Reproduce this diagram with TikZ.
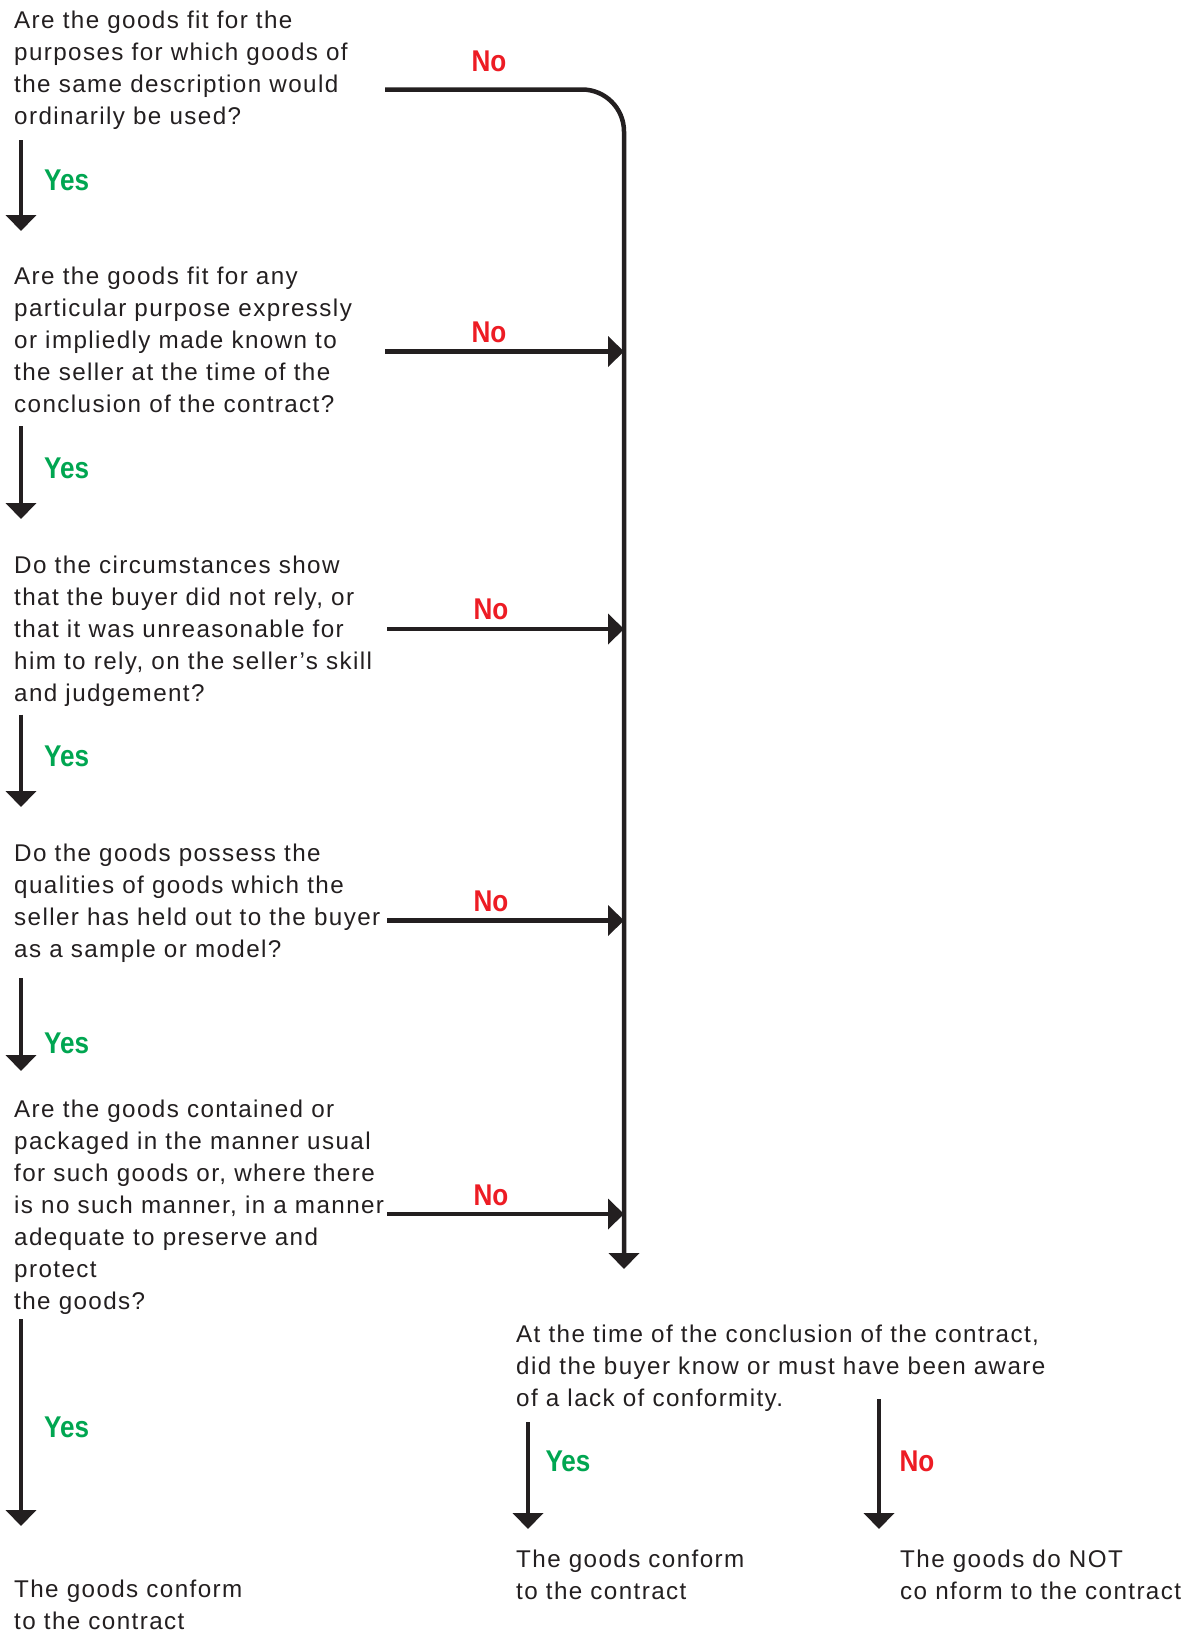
\documentclass[tikz,border=0pt]{standalone}
\usepackage{fontspec}
\setmainfont{Liberation Sans}[LetterSpace=5.8]
\newfontfamily\lblfont{Liberation Sans}[FakeStretch=0.87]
\usetikzlibrary{arrows.meta}
\definecolor{noRed}{HTML}{ED1C24}
\definecolor{yesGreen}{HTML}{00A651}
\definecolor{ink}{HTML}{231F20}
\begin{document}
\begin{tikzpicture}[x=1pt,y=-1pt,
  qtext/.style={anchor=north west, inner sep=0pt, align=left, font=\fontsize{24.2}{32}\selectfont, text=ink},
  yeslbl/.style={anchor=center, inner sep=0pt, font=\lblfont\bfseries\fontsize{30}{32}\selectfont, text=yesGreen},
  nolbl/.style={anchor=center, inner sep=0pt, font=\lblfont\bfseries\fontsize{30}{32}\selectfont, text=noRed},
  flow/.style={line width=4.5pt, draw=ink, -{Triangle[width=30pt,length=16pt]}},
]
\useasboundingbox[fill=white] (0,0) rectangle (1194,1631);

% questions
\node[qtext] (q1) at (14,5.6) {\strut Are the goods fit for the\\purposes for which goods of\\the same description would\\ordinarily be used?};
\node[qtext] (q2) at (14,261.6) {\strut Are the goods fit for any\\particular purpose expressly\\or impliedly made known to\\the seller at the time of the\\conclusion of the contract?};
\node[qtext] (q3) at (14,550.6) {\strut Do the circumstances show\\that the buyer did not rely, or\\that it was unreasonable for\\him to rely, on the seller's skill\\and judgement?};
\node[qtext] (q4) at (14,838.6) {\strut Do the goods possess the\\qualities of goods which the\\seller has held out to the buyer\\as a sample or model?};
\node[qtext] (q5) at (14,1094.6) {\strut Are the goods contained or\\packaged in the manner usual\\for such goods or, where there\\is no such manner, in a manner\\adequate to preserve and\\protect\\the goods?};
\node[qtext] (f1) at (14,1574.6) {\strut The goods conform\\to the contract};
\node[qtext] (q6) at (516,1319.6) {\strut At the time of the conclusion of the contract,\\did the buyer know or must have been aware\\of a lack of conformity.};
\node[qtext] (f2) at (516,1544.6) {\strut The goods conform\\to the contract};
\node[qtext] (f3) at (900,1544.6) {\strut The goods do NOT\\co nform to the contract};

% connector end points
\coordinate (y1s) at (21,140);   \coordinate (y1e) at (21,231);
\coordinate (y2s) at (21,426);   \coordinate (y2e) at (21,519);
\coordinate (y3s) at (21,714.5); \coordinate (y3e) at (21,807);
\coordinate (y4s) at (21,978);   \coordinate (y4e) at (21,1071);
\coordinate (y5s) at (21,1319);  \coordinate (y5e) at (21,1526);
\coordinate (y6s) at (528,1422); \coordinate (y6e) at (528,1529);
\coordinate (n6s) at (879,1399); \coordinate (n6e) at (879,1529);
\coordinate (n1s) at (385,89.5); \coordinate (corner) at (624,89.5); \coordinate (trunkend) at (624,1269);
\coordinate (n2s) at (385,351.5); \coordinate (n2e) at (624,351.5);
\coordinate (n3s) at (387,629);   \coordinate (n3e) at (624,629);
\coordinate (n4s) at (387,920.5); \coordinate (n4e) at (624,920.5);
\coordinate (n5s) at (387,1214);  \coordinate (n5e) at (624,1214);

% connectors
\draw[flow] (y1s) -- (y1e);
\draw[flow] (y2s) -- (y2e);
\draw[flow] (y3s) -- (y3e);
\draw[flow] (y4s) -- (y4e);
\draw[flow] (y5s) -- (y5e);
\draw[flow] (y6s) -- (y6e);
\draw[flow] (n6s) -- (n6e);
\draw[flow, rounded corners=42pt] (n1s) -- (corner) -- (trunkend);
\draw[flow] (n2s) -- (n2e);
\draw[flow] (n3s) -- (n3e);
\draw[flow] (n4s) -- (n4e);
\draw[flow] (n5s) -- (n5e);

% labels
\node[yeslbl] (ly1) at (66.6,180) {Yes};
\node[yeslbl] (ly2) at (66.6,468) {Yes};
\node[yeslbl] (ly3) at (66.6,756) {Yes};
\node[yeslbl] (ly4) at (66.6,1043) {Yes};
\node[yeslbl] (ly5) at (66.6,1427) {Yes};
\node[yeslbl] (ly6) at (568,1461) {Yes};
\node[nolbl] (ln1) at (489,61.4) {No};
\node[nolbl] (ln2) at (489,332) {No};
\node[nolbl] (ln3) at (491,609.5) {No};
\node[nolbl] (ln4) at (491,901) {No};
\node[nolbl] (ln5) at (491,1195) {No};
\node[nolbl] (ln6) at (917,1461) {No};
\end{tikzpicture}
\end{document}
